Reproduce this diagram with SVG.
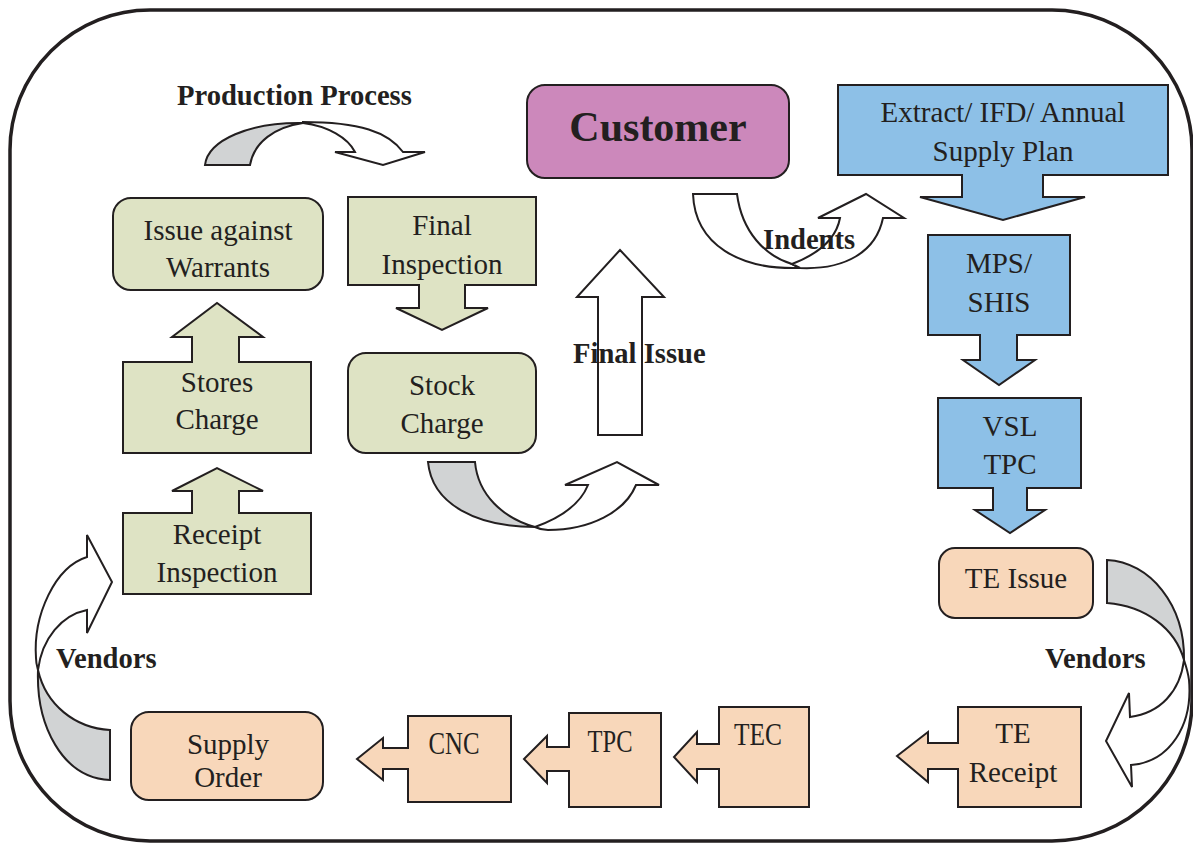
<svg xmlns="http://www.w3.org/2000/svg" width="1193" height="843" viewBox="0 0 1193 843">
  <style>
    .shape { stroke: #231f20; stroke-width: 2; stroke-linejoin: miter; }
    .green { fill: #dee3c4; }
    .blue { fill: #8dc0e7; }
    .peach { fill: #f8d7ba; }
    .purple { fill: #cc88bb; }
    .back { fill: #d1d3d4; stroke: #231f20; stroke-width: 2; }
    .front { fill: #ffffff; stroke: #231f20; stroke-width: 2; }
    text { font-family: "Liberation Serif", "Times New Roman", serif; fill: #231f20; text-anchor: middle; }
    .t { font-size: 29px; }
    .tn { font-size: 31px; }
    .lbl { font-size: 28.6px; font-weight: bold; text-anchor: start; }
  </style>

  <rect width="1193" height="843" fill="#ffffff"/>

  <!-- outer boundary -->
  <rect id="frame" x="10" y="10" width="1182" height="831" rx="140" ry="140" fill="none" stroke="#231f20" stroke-width="3.5"/>

  <!-- connectors: curved and straight block arrows -->
  <g id="connectors">
    <!-- production process: curved down arrow -->
    <path class="back" d="M205,165 L250,165 C254,142 275,127 303,123 C250,122 208,140 205,165 Z"/>
    <path class="front" d="M303,123 C328,126 348,138 355,152 L335,152 L383,165 L425,152 L403,152 C388,132 360,122 303,122 Z"/>

    <!-- indents: curved up arrow -->
    <path class="front" d="M693,194 L737,194 C742,232 765,256 792,264 L800,268 C740,270 695,245 693,194 Z"/>
    <path class="front" d="M792,264 C818,254 836,240 840,218 L818,218 L866,194 L904,218 L883,218 C876,252 845,270 800,268 Z"/>

    <!-- stock charge to final issue: curved up arrow -->
    <path class="back" d="M428,462 L475,462 C478,495 503,518 535,527 C478,527 432,505 428,462 Z"/>
    <path class="front" d="M535,527 C560,518 580,505 588,485 L565,485 L617,462 L659,485 L636,485 C625,512 590,530 548,530 C543,530 539,529 535,527 Z"/>

    <!-- final issue: straight up arrow -->
    <path class="front" d="M598,435 L598,297 L577,297 L620,250 L664,297 L642,297 L642,435 Z"/>

    <!-- vendors (right): curved left arrow -->
    <path class="back" d="M1107,560 L1107,603 C1145,606 1175,628 1184,660 C1185,605 1150,562 1107,560 Z"/>
    <path class="front" d="M1184,660 C1180,692 1160,713 1130,717 L1129,693 L1106,741 L1132,787 L1131,765 C1170,762 1193,725 1189,680 C1188,672 1186,666 1184,660 Z"/>

    <!-- vendors (left): curved right arrow -->
    <path class="back" d="M110,730 L110,780 C62,778 36,725 38,670 C46,705 75,728 110,730 Z"/>
    <path class="front" d="M38,670 C42,638 62,615 87,610 L87,633 L112,582 L87,535 L87,557 C55,567 33,615 36,658 C36,663 37,666 38,670 Z"/>
  </g>

  <!-- connector labels -->
  <text class="lbl" x="177" y="105">Production Process</text>
  <text class="lbl" x="763" y="249">Indents</text>
  <text class="lbl" x="573" y="363">Final Issue</text>
  <text class="lbl" x="1045" y="668">Vendors</text>
  <text class="lbl" x="56" y="668">Vendors</text>

  <!-- nodes -->
  <g id="customer">
    <rect class="shape purple" x="527" y="85" width="262" height="93" rx="18"/>
    <text x="658" y="141" style="font-size:42px;font-weight:bold">Customer</text>
  </g>

  <g id="extract">
    <path class="shape blue" d="M838,85 L1168,85 L1168,175 L1043,175 L1043,197 L1085,197 L1003,220 L920,197 L962,197 L962,175 L838,175 Z"/>
    <text class="t" x="1003" y="122">Extract/ IFD/ Annual</text>
    <text class="t" x="1003" y="161">Supply Plan</text>
  </g>

  <g id="mps">
    <path class="shape blue" d="M928,235 L1070,235 L1070,335 L1017,335 L1017,360 L1035,360 L999,385 L963,360 L980,360 L980,335 L928,335 Z"/>
    <text class="t" x="999" y="273">MPS/</text>
    <text class="t" x="999" y="312">SHIS</text>
  </g>

  <g id="vsl">
    <path class="shape blue" d="M938,398 L1081,398 L1081,488 L1027,488 L1027,510 L1045,510 L1010,533 L975,510 L993,510 L993,488 L938,488 Z"/>
    <text class="t" x="1010" y="436">VSL</text>
    <text class="t" x="1010" y="474">TPC</text>
  </g>

  <g id="te-issue">
    <rect class="shape peach" x="939" y="548" width="154" height="70" rx="16"/>
    <text class="t" x="1016" y="588">TE Issue</text>
  </g>

  <g id="te-receipt">
    <path class="shape peach" d="M1081,707 L1081,807 L958,807 L958,769 L928,769 L928,782 L897,756 L928,732 L928,743 L958,743 L958,707 Z"/>
    <text class="t" x="1013" y="743">TE</text>
    <text class="t" x="1013" y="782">Receipt</text>
  </g>

  <g id="tec">
    <path class="shape peach" d="M809,707 L809,807 L719,807 L719,769 L697,769 L697,782 L674,757 L697,732 L697,744 L719,744 L719,707 Z"/>
    <text class="tn" x="758" y="745" textLength="48" lengthAdjust="spacingAndGlyphs">TEC</text>
  </g>

  <g id="tpc">
    <path class="shape peach" d="M661,713 L661,807 L569,807 L569,771 L547,771 L547,783 L524,759 L547,736 L547,747 L569,747 L569,713 Z"/>
    <text class="tn" x="610" y="752" textLength="45" lengthAdjust="spacingAndGlyphs">TPC</text>
  </g>

  <g id="cnc">
    <path class="shape peach" d="M511,716 L511,802 L408,802 L408,769 L383,769 L383,780 L357,759 L383,738 L383,748 L408,748 L408,716 Z"/>
    <text class="tn" x="454" y="754" textLength="51" lengthAdjust="spacingAndGlyphs">CNC</text>
  </g>

  <g id="supply-order">
    <rect class="shape peach" x="131" y="712" width="192" height="88" rx="18"/>
    <text class="t" x="228" y="754">Supply</text>
    <text class="t" x="228" y="787">Order</text>
  </g>

  <g id="receipt-inspection">
    <path class="shape green" d="M123,594 L123,513 L192,513 L192,491 L172,491 L217,468 L263,491 L239,491 L239,513 L311,513 L311,594 Z"/>
    <text class="t" x="217" y="544">Receipt</text>
    <text class="t" x="217" y="582">Inspection</text>
  </g>

  <g id="stores-charge">
    <path class="shape green" d="M123,453 L123,362 L192,362 L192,337 L172,337 L217,303 L263,337 L239,337 L239,362 L311,362 L311,453 Z"/>
    <text class="t" x="217" y="392">Stores</text>
    <text class="t" x="217" y="429">Charge</text>
  </g>

  <g id="issue-warrants">
    <rect class="shape green" x="113" y="198" width="210" height="92" rx="18"/>
    <text class="t" x="218" y="240">Issue against</text>
    <text class="t" x="218" y="277">Warrants</text>
  </g>

  <g id="final-inspection">
    <path class="shape green" d="M348,197 L536,197 L536,285 L465,285 L465,308 L488,308 L442,330 L396,308 L419,308 L419,285 L348,285 Z"/>
    <text class="t" x="442" y="235">Final</text>
    <text class="t" x="442" y="274">Inspection</text>
  </g>

  <g id="stock-charge">
    <rect class="shape green" x="348" y="353" width="188" height="100" rx="18"/>
    <text class="t" x="442" y="395">Stock</text>
    <text class="t" x="442" y="433">Charge</text>
  </g>
</svg>
